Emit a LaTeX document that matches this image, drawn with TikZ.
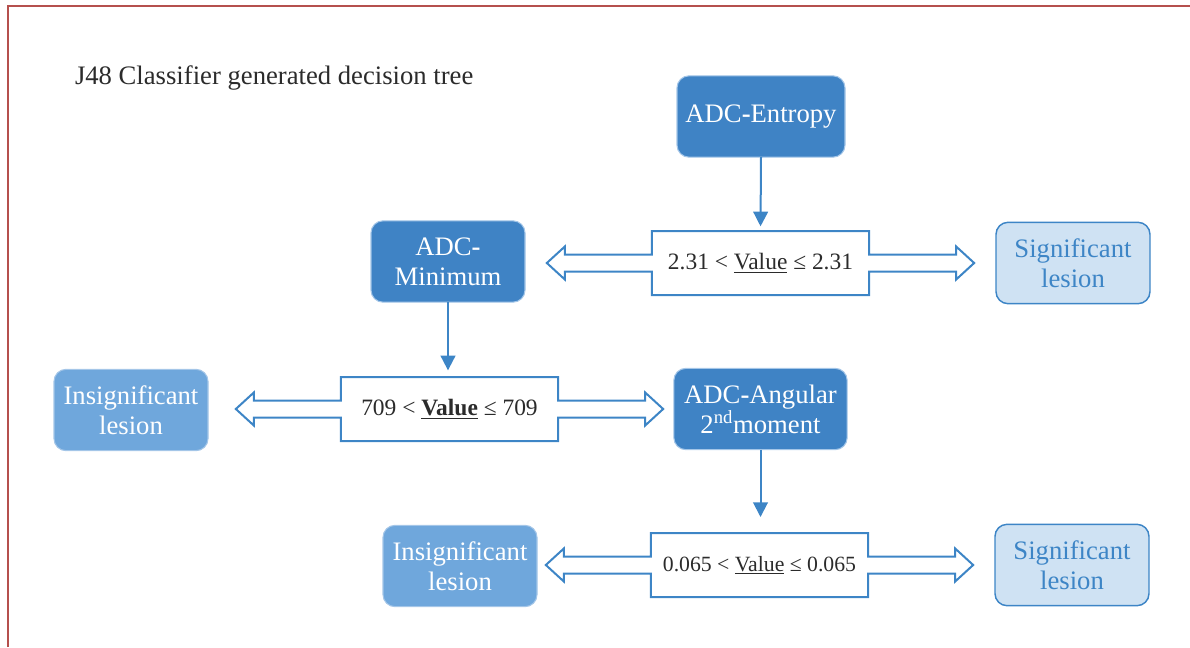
\documentclass[tikz,border=0pt]{standalone}
\usepackage{fontspec}
\setmainfont{Liberation Serif}
\usetikzlibrary{arrows.meta,calc}
\definecolor{nodeblue}{HTML}{3F83C5}
\definecolor{midblue}{HTML}{6FA7DC}
\definecolor{paleblue}{HTML}{CFE2F3}
\definecolor{lineblue}{HTML}{3D85C6}
\definecolor{rimblue}{HTML}{A4C6E8}
\definecolor{framered}{HTML}{B5504D}
\definecolor{inkgray}{HTML}{2B2B2B}
% box with a wide arrow on either side
\newcommand{\splitbox}[1]{%
  \draw[splitline] (#1.north west) -- (#1.north east) -- ($(#1.east)+(0,-8.5)$)
    -- ++(87,0) -- ++(0,-8) -- ++(18,16.5) -- ++(-18,16.5) -- ++(0,-8)
    -- ($(#1.east)+(0,8.5)$) -- (#1.south east) -- (#1.south west)
    -- ($(#1.west)+(0,8.5)$) -- ++(-87,0) -- ++(0,8) -- ++(-18,-16.5)
    -- ++(18,-16.5) -- ++(0,8) -- ($(#1.west)+(0,-8.5)$) -- cycle;}

\begin{document}
\begin{tikzpicture}[x=0.75pt,y=-0.75pt,
    every node/.style={inner sep=0pt,outer sep=0pt,align=center},
    featbox/.style={rounded corners=9pt,fill=nodeblue,draw=rimblue,line width=0.8pt,
      text=white,font=\fontsize{20}{22.5}\selectfont,minimum height=61pt},
    neglesion/.style={featbox,fill=midblue,minimum width=115.5pt},
    poslesion/.style={featbox,fill=paleblue,draw=lineblue,line width=1.1pt,
      text=lineblue,minimum width=115.5pt},
    testbox/.style={minimum width=163pt,minimum height=48pt,text=inkgray,
      font=\fontsize{17.6}{20}\selectfont},
    splitline/.style={draw=lineblue,line width=1.5pt},
    flow/.style={draw=lineblue,line width=1.5pt,-{Triangle[width=11pt,length=11pt]}}]
  \useasboundingbox (0,0) rectangle (1190,647);
  \draw[draw=framered,line width=1.5pt] (7.5,647) -- (7.5,5.5) -- (1190,5.5);

  \node[anchor=base west,text=inkgray,font=\fontsize{20}{22.5}\selectfont] (title) at (75,84.5)
    {J48 Classifier generated decision tree};

  % level 1
  \node[featbox,minimum width=126pt] (entropy) at (761,116.5) {ADC{\bfseries -}Entropy};
  \node[testbox] (cut1) at (760.5,263) {2.31 < \underline{Value} ≤ 2.31};
  \node[featbox,minimum width=115.5pt] (minimum) at (448,261.5) {ADC{\bfseries -}\\Minimum};
  \node[poslesion] (sig1) at (1073,263) {Significant\\lesion};

  % level 2
  \node[testbox] (cut2) at (449.5,409) {709 < \underline{\textbf{Value}} ≤ 709};
  \node[neglesion] (insig1) at (131,410) {Insignificant\\lesion};
  \node[featbox,minimum width=130pt] (angular) at (760.5,409)
    {ADC{\bfseries -}Angular\\2\textsuperscript{nd}moment};

  % level 3
  \node[testbox,font=\fontsize{16.3}{19}\selectfont] (cut3) at (759.5,565)
    {0.065 < \underline{Value} ≤ 0.065};
  \node[neglesion] (insig2) at (460,566) {Insignificant\\lesion};
  \node[poslesion] (sig2) at (1072,565) {Significant\\lesion};

  \splitbox{cut1}
  \splitbox{cut2}
  \splitbox{cut3}

  \draw[flow,shorten >=3.5pt] (entropy.south) -- (cut1.north);
  \draw[flow,shorten >=5pt] (minimum.south) -- (minimum.south |- cut2.north);
  \draw[flow,shorten >=12pt] (angular.south) -- (angular.south |- cut3.north);
\end{tikzpicture}
\end{document}
